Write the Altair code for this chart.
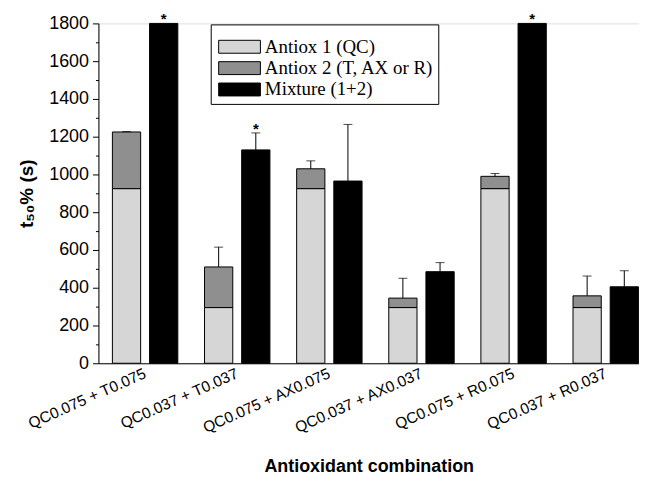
import altair as alt
import pandas as pd

groups = ["QC0.075 + T0.075", "QC0.037 + T0.037", "QC0.075 + AX0.075",
          "QC0.037 +  AX0.037", "QC0.075 + R0.075", "QC0.037 + R0.037"]
antiox1 = [925, 295, 925, 295, 925, 295]
antiox2 = [300, 215, 105, 50, 65, 62]
antiox_err = [2, 105, 42, 105, 15, 105]
mixture = [1800, 1130, 965, 485, 1800, 405]
mixture_err = [0, 90, 300, 48, 0, 85]
significant = [True, True, False, False, True, False]
series = ["Antiox 1 (QC)", "Antiox 2 (T, AX or R)", "Mixture (1+2)"]
colors = ["#d6d6d6", "#8f8f8f", "#000000"]
major_ticks = list(range(0, 1801, 200))
minor_ticks = list(range(100, 1800, 200))

bar_rows, err_rows, star_rows = [], [], []
for i, g in enumerate(groups):
    a1, a2, m = antiox1[i], antiox2[i], mixture[i]
    bar_rows.append({"group": g, "sub": "A", "series": series[0], "lo": 0, "hi": a1})
    bar_rows.append({"group": g, "sub": "A", "series": series[1], "lo": a1, "hi": a1 + a2})
    bar_rows.append({"group": g, "sub": "M", "series": series[2], "lo": 0, "hi": m})
    if antiox_err[i] > 0:
        err_rows.append({"group": g, "sub": "A", "top": a1 + a2, "etop": a1 + a2 + antiox_err[i]})
    if mixture_err[i] > 0:
        err_rows.append({"group": g, "sub": "M", "top": m, "etop": m + mixture_err[i]})
    if significant[i]:
        star_rows.append({"group": g, "sub": "M", "y": m + mixture_err[i], "txt": "*"})

bars_df = pd.DataFrame(bar_rows)
err_df = pd.DataFrame(err_rows)
star_df = pd.DataFrame(star_rows)

x_enc = alt.X("group:N", sort=groups,
              scale=alt.Scale(paddingInner=0.29, paddingOuter=0.079, align=0.96),
              axis=alt.Axis(title="Antioxidant combination", labelAngle=-24,
                            labelAlign="right", labelBaseline="middle",
                            labelFont="Liberation Sans", labelFontSize=15.5,
                            labelColor="black", labelPadding=9, ticks=False,
                            domainColor="black", titleFont="Liberation Sans",
                            titleFontSize=18, titleFontWeight="bold",
                            titleColor="black", titlePadding=20, labelLimit=300))
xo_enc = alt.XOffset("sub:N", sort=["A", "M"],
                     scale=alt.Scale(paddingInner=0.24, paddingOuter=0))

y_scale = alt.Scale(domain=[0, 1800], nice=False)
y_axis = alt.Axis(title="t₅₀% (s)", values=major_ticks, format="d",
                  tickSize=6, labelOverlap=False, grid=False,
                  labelFont="Liberation Sans", labelFontSize=18,
                  labelColor="black", tickColor="black", domainColor="black",
                  labelPadding=4, titleFont="Liberation Sans", titleFontSize=19,
                  titleFontWeight="bold", titleColor="black", titlePadding=12)
minor_axis = alt.Axis(title=None, values=minor_ticks, labels=False, tickSize=3,
                      tickColor="black", domain=False, grid=False, orient="left")

legend = alt.Legend(orient="none", legendX=113, legendY=1, title=" ",
                    titleFontSize=8, titlePadding=1, padding=4,
                    strokeColor="black", fillColor="white",
                    labelFont="Liberation Serif", labelFontSize=19,
                    labelColor="black", labelLimit=500,
                    symbolType="M-3.23,-1H3.23V1H-3.23Z", symbolSize=169,
                    symbolStrokeColor="black", symbolStrokeWidth=1,
                    symbolOpacity=1, symbolOffset=15.5, labelOffset=16,
                    rowPadding=1.5)

bars = alt.Chart(bars_df).mark_bar(stroke="black", strokeWidth=1, opacity=1).encode(
    x=x_enc, xOffset=xo_enc,
    y=alt.Y("hi:Q", scale=y_scale, axis=y_axis), y2="lo:Q",
    fill=alt.Fill("series:N", sort=series,
                  scale=alt.Scale(domain=series, range=colors), legend=legend),
)

err_rule = alt.Chart(err_df).mark_rule(color="black", strokeWidth=1).encode(
    x=x_enc, xOffset=xo_enc, y=alt.Y("top:Q", scale=y_scale, axis=None), y2="etop:Q")
err_cap = alt.Chart(err_df).mark_tick(color="black", thickness=1, size=9, orient="horizontal").encode(
    x=x_enc, xOffset=xo_enc, y=alt.Y("etop:Q", scale=y_scale, axis=minor_axis))
stars = alt.Chart(star_df).mark_text(font="Liberation Sans", fontSize=15, fontWeight="bold",
                                     baseline="alphabetic", dy=1, color="black").encode(
    x=x_enc, xOffset=xo_enc, y=alt.Y("y:Q", scale=y_scale, axis=None), text="txt:N")

chart = alt.layer(bars, err_rule, err_cap, stars).resolve_scale(y="independent").properties(
    width=544, height=342, padding={"left": 9, "top": 3, "right": 0, "bottom": 5}
).configure_view(stroke=None).configure(background="white")

chart.save("out.html", embed_options={"renderer": "svg", "actions": False})
